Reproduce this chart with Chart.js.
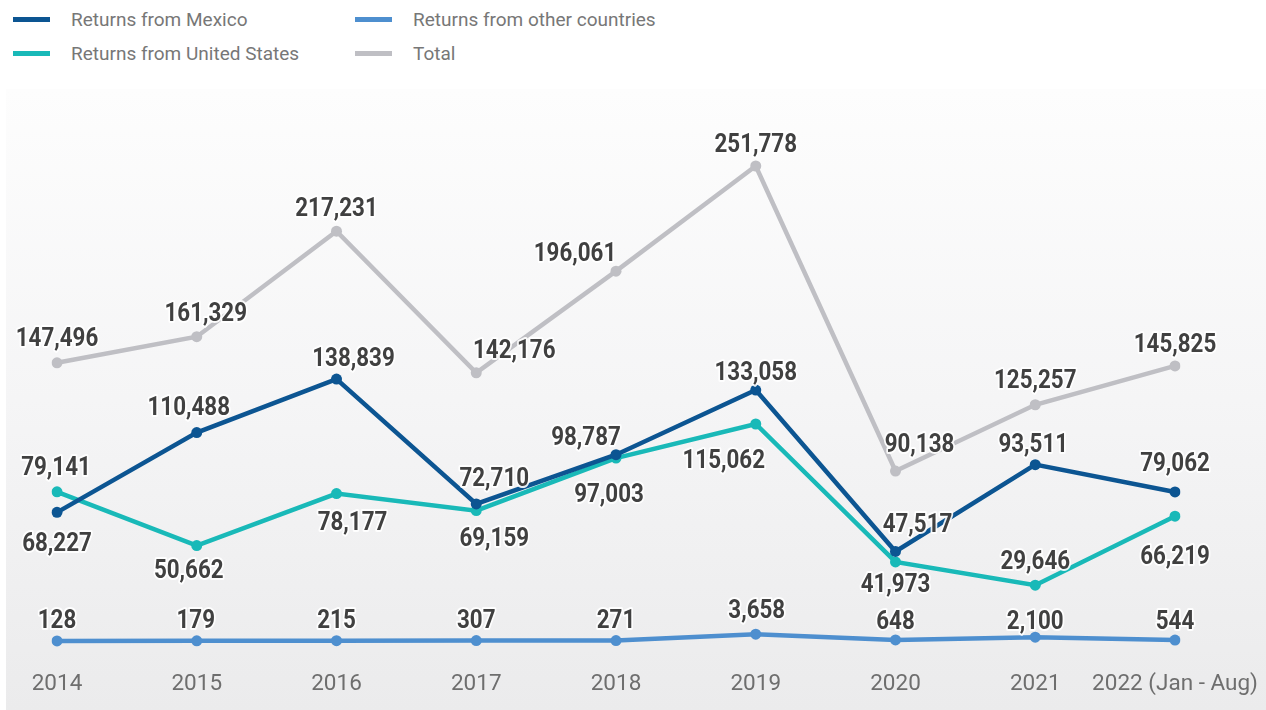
<!DOCTYPE html>
<html>
<head>
<meta charset="utf-8">
<script src="https://cdn.jsdelivr.net/npm/chart.js@4.4.1/dist/chart.umd.min.js"></script>
<style>
  html, body { margin: 0; padding: 0; background: #ffffff; }
  #wrap { position: relative; width: 1266px; height: 710px; overflow: hidden; }
  #bg { position: absolute; left: 6px; top: 89px; width: 1260px; height: 621px;
        background: linear-gradient(to bottom, #fdfdfd 0%, #f5f5f6 50%, #ebebec 100%); }
  #legend { position: absolute; left: 0; top: 0; width: 800px; height: 80px;
            font-family: Roboto, sans-serif; font-size: 19px; color: #777777; }
  .item { position: absolute; height: 24px; line-height: 24px; }
  .item span.sw { position: absolute; left: 0; top: 9px; width: 37px; height: 5px; }
  .item span.tx { position: absolute; left: 58px; top: 0; white-space: nowrap; }
  canvas { position: absolute; left: 0; top: 0; }
</style>
</head>
<body>
<div id="wrap">
  <div id="bg"></div>
  <div id="legend"></div>
  <canvas id="c" width="1266" height="710"></canvas>
</div>
<script>
// ---- data ----
const categories = ["2014", "2015", "2016", "2017", "2018", "2019", "2020", "2021", "2022 (Jan - Aug)"];
const mexico = [68227, 110488, 138839, 72710, 98787, 133058, 47517, 93511, 79062];
const unitedStates = [79141, 50662, 78177, 69159, 97003, 115062, 41973, 29646, 66219];
const otherCountries = [128, 179, 215, 307, 271, 3658, 648, 2100, 544];
const total = [147496, 161329, 217231, 142176, 196061, 251778, 90138, 125257, 145825];

// value-label offsets from each point, in pixels [dx, dy] (style, not data)
const labelOffsetsMexico = [[0, 29], [-8, -27], [17, -23], [18, -27], [-30, -19], [0, -20], [22, -29], [-2, -22], [0, -30]];
const labelOffsetsUS = [[-1, -26], [-8, 23], [16, 27], [18, 26], [-7, 34], [-32, 35], [0, 21], [0, -26], [0, 38]];
const labelOffsetsOther = [[0, -22], [-1, -22], [0, -22], [0, -22], [0, -22], [1, -26], [0, -20], [0, -18], [0, -21]];
const labelOffsetsTotal = [[0, -26], [9, -25], [0, -25], [38, -24], [-41, -20], [0, -23], [24, -29], [0, -26], [0, -23]];

const series = [
  { label: "Returns from Mexico", data: mexico, color: "#0c5592", offsets: labelOffsetsMexico },
  { label: "Returns from United States", data: unitedStates, color: "#19b9b8", offsets: labelOffsetsUS },
  { label: "Returns from other countries", data: otherCountries, color: "#4e8fcf", offsets: labelOffsetsOther },
  { label: "Total", data: total, color: "#bfbfc4", offsets: labelOffsetsTotal }
];

// HTML legend (two columns)
const legendPos = [
  { left: 13, top: 8 }, { left: 13, top: 42 }, { left: 355, top: 8 }, { left: 355, top: 42 }
];
const legendEl = document.getElementById("legend");
series.forEach((s, i) => {
  const d = document.createElement("div");
  d.className = "item";
  d.style.left = legendPos[i].left + "px";
  d.style.top = legendPos[i].top + "px";
  d.innerHTML = '<span class="sw" style="background:' + s.color + '"></span><span class="tx">' + s.label + '</span>';
  legendEl.appendChild(d);
});

const labelFont = '700 26px Roboto, sans-serif';
const squeeze = 0.86;
const baselineShift = 3;

const labelPlugin = {
  id: "valueLabels",
  afterDatasetsDraw(chart) {
    const ctx = chart.ctx;
    chart.data.datasets.forEach((ds, di) => {
      const meta = chart.getDatasetMeta(di);
      meta.data.forEach((pt, i) => {
        const off = ds.offsets[i];
        const txt = ds.data[i].toLocaleString("en-US");
        const x = pt.x + off[0], y = pt.y + off[1] + baselineShift;
        ctx.save();
        ctx.translate(x, y);
        ctx.scale(squeeze, 1);
        ctx.font = labelFont;
        ctx.textAlign = "center";
        ctx.textBaseline = "middle";
        ctx.lineJoin = "round";
        ctx.lineWidth = 4;
        ctx.strokeStyle = "rgba(255,255,255,0.9)";
        ctx.strokeText(txt, 0, 0);
        ctx.fillStyle = "#404040";
        ctx.fillText(txt, 0, 0);
        ctx.restore();
      });
    });
  }
};

new Chart(document.getElementById("c"), {
  type: "line",
  data: {
    labels: categories,
    datasets: series.map(s => ({
      label: s.label,
      data: s.data,
      offsets: s.offsets,
      borderColor: s.color,
      backgroundColor: s.color,
      borderWidth: 4.5,
      pointRadius: 5.5,
      pointHoverRadius: 5.5,
      pointBorderWidth: 0,
      tension: 0,
      fill: false
    }))
  },
  options: {
    responsive: false,
    animation: false,
    devicePixelRatio: 1,
    layout: { padding: { left: 57, right: 91, top: 131.6, bottom: 0 } },
    plugins: { legend: { display: false }, tooltip: { enabled: false } },
    scales: {
      x: {
        offset: false,
        grid: { display: false },
        border: { display: false },
        afterFit(scale) { scale.height = 50; },
        ticks: {
          color: "#6e6e6e",
          padding: 3,
          maxRotation: 0,
          minRotation: 0,
          autoSkip: false,
          font: { family: 'Roboto, sans-serif', size: 22.5, lineHeight: 1.2 }
        }
      },
      y: { display: false, min: -10000, max: 270000 }
    }
  },
  plugins: [labelPlugin]
});
</script>
</body>
</html>
